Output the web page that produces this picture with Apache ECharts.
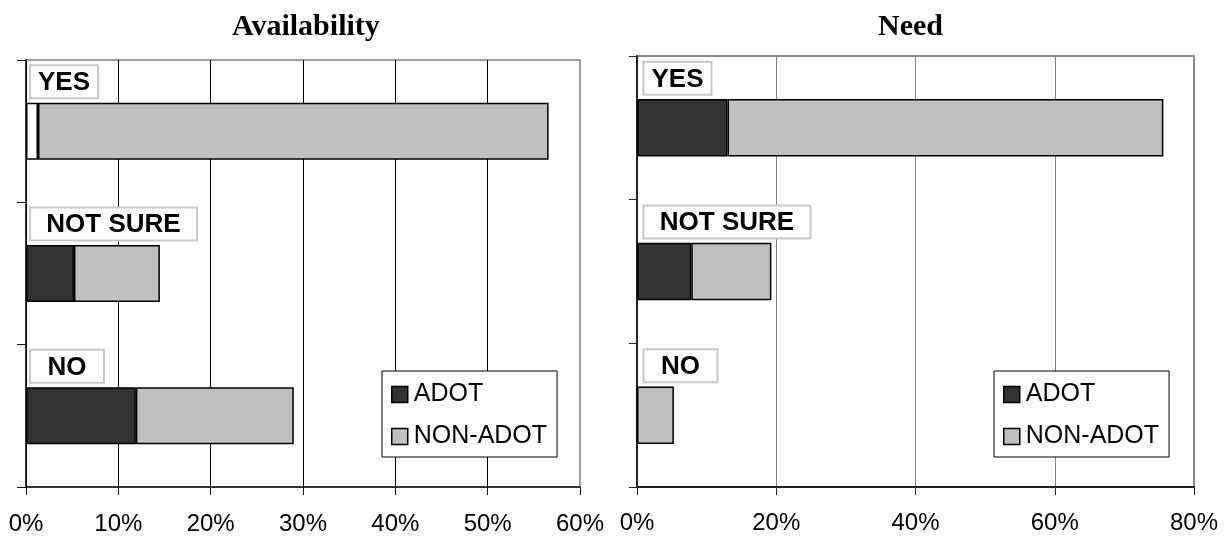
<!DOCTYPE html>
<html>
<head>
<meta charset="utf-8">
<script src="https://cdn.jsdelivr.net/npm/echarts@6/dist/echarts.min.js"></script>
<style>
html,body{margin:0;padding:0;background:#fff;}
#c{width:1228px;height:536px;}
</style>
</head>
<body>
<div id="c"></div>
<script>
// ---- data ----
const categories = ['YES', 'NOT SURE', 'NO'];
const seriesNames = ['ADOT', 'NON-ADOT'];
const availabilityAdot = [1.3, 5.2, 11.9];
const availabilityNonAdot = [55.3, 9.3, 17.1];
const needAdot = [13.0, 7.8, 0];
const needNonAdot = [62.6, 11.5, 5.3];
const availabilityTicks = [0, 10, 20, 30, 40, 50, 60];
const needTicks = [0, 20, 40, 60, 80];
const chartTitles = ['Availability', 'Need'];

// ---- styling ----
const SANS = '"Liberation Sans", Arial, sans-serif';
const SERIF = '"Liberation Serif", "Times New Roman", serif';
const ADOT_COLOR = '#333333';
const NON_COLOR = '#c0c0c0';
const labelBoxWidth = { 'YES': 68, 'NOT SURE': 167, 'NO': 74 };

const chart = echarts.init(document.getElementById('c'), null, { renderer: 'canvas' });

function labelSeries(gridIdx, xOff) {
  return {
    type: 'custom',
    xAxisIndex: gridIdx,
    yAxisIndex: gridIdx,
    z: 5,
    silent: true,
    data: categories.map((c, i) => [0, i]),
    encode: { x: 0, y: 1 },
    renderItem: function (params, api) {
      const idx = api.value(1);
      const name = categories[idx];
      const p = api.coord([0, idx]);
      const w = labelBoxWidth[name];
      const h = 33;
      const cy = p[1] - 49.5;
      const x0 = p[0] + xOff;
      return {
        type: 'group',
        children: [
          { type: 'rect', shape: { x: x0, y: cy - h / 2, width: w, height: h },
            style: { fill: '#ffffff', stroke: '#c8c8c8', lineWidth: 2 } },
          { type: 'text', style: { text: name, x: x0 + w / 2, y: cy + 1, align: 'center', verticalAlign: 'middle',
            font: 'bold 26px ' + SANS, fill: '#000' } }
        ]
      };
    }
  };
}

function barSeries(name, values, gridIdx, color, firstOverride) {
  return {
    name: name,
    type: 'bar',
    stack: 'g' + gridIdx,
    xAxisIndex: gridIdx,
    yAxisIndex: gridIdx,
    barWidth: '40%',
    z: 3,
    itemStyle: { color: color, borderColor: '#000', borderWidth: 1.5 },
    data: values.map((v, i) => (firstOverride && i === 0) ? { value: v, itemStyle: { color: '#ffffff' } } : v)
  };
}

function splitColors(n, main, last) {
  const arr = [];
  for (let i = 0; i < n; i++) arr.push(i === n - 1 ? last : main);
  return arr;
}

function legendAt(left) {
  return { data: seriesNames.map(n => ({ name: n, icon: 'rect' })), orient: 'vertical', left: left, top: 371, padding: [11, 10, 8, 9],
    itemWidth: 16, itemHeight: 16, itemGap: 17, selectedMode: false,
    backgroundColor: '#ffffff', borderColor: '#000', borderWidth: 1, borderRadius: 0,
    itemStyle: { borderColor: '#000', borderWidth: 1.5 },
    textStyle: { fontFamily: SANS, fontSize: 25, color: '#000', padding: [0, 0, 0, 1] } };
}

const option = {
  backgroundColor: '#ffffff',
  animation: false,
  title: [
    { text: chartTitles[0], left: 232, top: 12, padding: 0,
      textStyle: { fontFamily: SERIF, fontWeight: 'bold', fontSize: 30, color: '#000' } },
    { text: chartTitles[1], left: 878, top: 12, padding: 0,
      textStyle: { fontFamily: SERIF, fontWeight: 'bold', fontSize: 30, color: '#000' } }
  ],
  legend: [legendAt(382), legendAt(994)],
  grid: [
    { left: 26, right: 648, top: 60, bottom: 48, show: true, borderColor: '#a0a0a0', borderWidth: 2, backgroundColor: 'transparent' },
    { left: 637, right: 34, top: 56, bottom: 49, show: true, borderColor: '#888888', borderWidth: 2, backgroundColor: 'transparent' }
  ],
  xAxis: [
    { type: 'value', gridIndex: 0, min: availabilityTicks[0], max: availabilityTicks[availabilityTicks.length - 1], interval: availabilityTicks[1] - availabilityTicks[0],
      axisLine: { show: true, lineStyle: { color: '#111', width: 1.5 } },
      axisTick: { show: true, length: 8, lineStyle: { color: '#111', width: 1 } },
      axisLabel: { formatter: '{value}%', fontFamily: SANS, fontSize: 24, color: '#000', margin: 25 },
      splitLine: { show: true, lineStyle: { color: splitColors(availabilityTicks.length, '#000', '#a0a0a0'), width: 1 } } },
    { type: 'value', gridIndex: 1, min: needTicks[0], max: needTicks[needTicks.length - 1], interval: needTicks[1] - needTicks[0],
      axisLine: { show: true, lineStyle: { color: '#222', width: 2 } },
      axisTick: { show: true, length: 8, lineStyle: { color: '#222', width: 1 } },
      axisLabel: { formatter: '{value}%', fontFamily: SANS, fontSize: 24, color: '#000', margin: 24 },
      splitLine: { show: true, lineStyle: { color: splitColors(needTicks.length, '#808080', '#888888'), width: 1 } } }
  ],
  yAxis: [
    { type: 'category', gridIndex: 0, data: categories, inverse: true,
      axisLine: { show: true, lineStyle: { color: '#111', width: 1.5 } },
      axisTick: { show: true, length: 9, lineStyle: { color: '#111', width: 1 } },
      axisLabel: { show: false }, splitLine: { show: false } },
    { type: 'category', gridIndex: 1, data: categories, inverse: true,
      axisLine: { show: true, lineStyle: { color: '#222', width: 2 } },
      axisTick: { show: true, length: 8, lineStyle: { color: '#222', width: 1 } },
      axisLabel: { show: false }, splitLine: { show: false } }
  ],
  series: [
    barSeries(seriesNames[0], availabilityAdot, 0, ADOT_COLOR, true),
    barSeries(seriesNames[1], availabilityNonAdot, 0, NON_COLOR, false),
    barSeries(seriesNames[0], needAdot, 1, ADOT_COLOR, false),
    barSeries(seriesNames[1], needNonAdot, 1, NON_COLOR, false),
    labelSeries(0, 4),
    labelSeries(1, 6.5)
  ]
};
chart.setOption(option);
</script>
</body>
</html>
